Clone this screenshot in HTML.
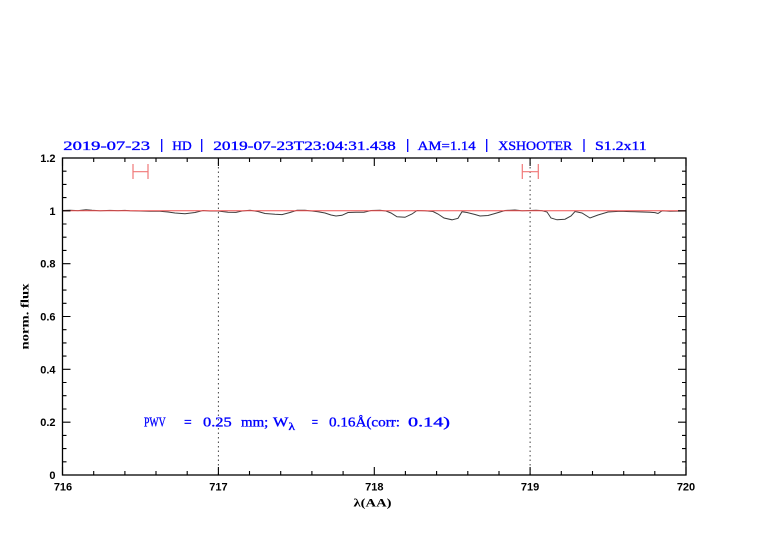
<!DOCTYPE html>
<html>
<head>
<meta charset="utf-8">
<style>
html,body{margin:0;padding:0;background:#fff;}
svg{display:block;}
</style>
</head>
<body>
<svg width="782" height="542" viewBox="0 0 782 542" xmlns="http://www.w3.org/2000/svg">
<rect width="782" height="542" fill="#fff"/>

<!-- title -->
<g fill="#0000ff" stroke="#0000ff" stroke-width="0.35" font-family="Liberation Serif, serif" font-size="13">
<text x="63.3" y="150" textLength="86.7" lengthAdjust="spacingAndGlyphs">2019-07-23</text>
<text x="172.3" y="150" textLength="19.4" lengthAdjust="spacingAndGlyphs">HD</text>
<text x="213.3" y="150" textLength="182.4" lengthAdjust="spacingAndGlyphs">2019-07-23T23:04:31.438</text>
<text x="417.7" y="150" textLength="58" lengthAdjust="spacingAndGlyphs">AM=1.14</text>
<text x="498.3" y="150" textLength="74" lengthAdjust="spacingAndGlyphs">XSHOOTER</text>
<text x="595" y="150" textLength="51.7" lengthAdjust="spacingAndGlyphs">S1.2x11</text>
</g>
<g stroke="#0000ff" stroke-width="1.3">
<line x1="161.7" y1="139" x2="161.7" y2="152"/>
<line x1="201.7" y1="139" x2="201.7" y2="152"/>
<line x1="407.7" y1="139" x2="407.7" y2="152"/>
<line x1="486.7" y1="139" x2="486.7" y2="152"/>
<line x1="584" y1="139" x2="584" y2="152"/>
</g>

<!-- dotted vertical lines -->
<g stroke="#444" stroke-width="1" stroke-dasharray="1.5,3">
<line x1="218.4" y1="158" x2="218.4" y2="475"/>
<line x1="530.1" y1="158" x2="530.1" y2="475"/>
</g>

<!-- red I-bars -->
<g stroke="#f07878" stroke-width="1.2" fill="none">
<path d="M133 171.7 H148 M133 164 V179 M148 164 V179"/>
<path d="M522.3 171.7 H538.3 M522.3 164 V179 M538.3 164 V179"/>
</g>

<!-- spectrum -->
<polyline fill="none" stroke="#3c3c3c" stroke-width="1" points="
62.5,210.5 70,210.3 78,210.6 86,209.8 92,210.3 100,210.7 110,210.4 118,210.6 125,210.4 130,210.7 140,211 150,211.2 160,211.3 168,212 175,213 185,213.8 195,212.5 203,210.5 210,211 218,211 222,211.5 228,212.3 236,212.4 242,211 250,210.3 258,211.5 265,213.5 275,214.3 282,214.6 290,212.5 297,210.3 305,210.2 312,211 318,211.8 325,213 331,215 336,216 342,215.3 348,212.5 356,212.3 364,212.2 371,210.5 380,210.3 386,211 391,213 397,216.8 405,217.3 412,214 417,210.5 425,210.8 433,211.5 438,214 444,218 452,219.8 458,218.3 462,211.7 467,212.5 475,214.5 480,216 488,215.5 495,213.5 505,210.5 515,210 522,210.8 530,210.5 536,210.3 542,210.6 547,212 551,218 557,219.8 565,219.2 571,216 575,211.5 582,213 590,218 598,215 608,212 620,211.3 630,211.6 642,212 650,212.2 655,212.6 658,213.5 662,210.8 670,211.2 686,211"/>

<!-- continuum -->
<line x1="62.5" y1="210.8" x2="686" y2="210.8" stroke="#f05050" stroke-width="1"/>

<!-- frame -->
<rect x="62.5" y="158" width="623.5" height="317" fill="none" stroke="#000" stroke-width="1.3"/>

<!-- ticks -->
<path fill="none" stroke="#000" stroke-width="1.1" d="
M62.5 475 V467 M93.7 475 V471 M124.9 475 V471 M156 475 V471 M187.2 475 V471
M218.4 475 V467 M249.5 475 V471 M280.7 475 V471 M311.9 475 V471 M343.1 475 V471
M374.3 475 V467 M405.4 475 V471 M436.6 475 V471 M467.8 475 V471 M499 475 V471
M530.1 475 V467 M561.3 475 V471 M592.5 475 V471 M623.7 475 V471 M654.8 475 V471 M686 475 V467
M62.5 158 V166 M93.7 158 V162 M124.9 158 V162 M156 158 V162 M187.2 158 V162
M218.4 158 V166 M249.5 158 V162 M280.7 158 V162 M311.9 158 V162 M343.1 158 V162
M374.3 158 V166 M405.4 158 V162 M436.6 158 V162 M467.8 158 V162 M499 158 V162
M530.1 158 V166 M561.3 158 V162 M592.5 158 V162 M623.7 158 V162 M654.8 158 V162 M686 158 V166
M62.5 475 H70.5 M62.5 461.8 H66.5 M62.5 448.6 H66.5 M62.5 435.4 H66.5
M62.5 422.2 H70.5 M62.5 409 H66.5 M62.5 395.7 H66.5 M62.5 382.5 H66.5
M62.5 369.3 H70.5 M62.5 356.1 H66.5 M62.5 342.9 H66.5 M62.5 329.7 H66.5
M62.5 316.5 H70.5 M62.5 303.3 H66.5 M62.5 290.1 H66.5 M62.5 276.9 H66.5
M62.5 263.7 H70.5 M62.5 250.4 H66.5 M62.5 237.2 H66.5 M62.5 224 H66.5
M62.5 210.8 H70.5 M62.5 197.6 H66.5 M62.5 184.4 H66.5 M62.5 171.2 H66.5 M62.5 158 H70.5
M686 475 H678 M686 461.8 H682 M686 448.6 H682 M686 435.4 H682
M686 422.2 H678 M686 409 H682 M686 395.7 H682 M686 382.5 H682
M686 369.3 H678 M686 356.1 H682 M686 342.9 H682 M686 329.7 H682
M686 316.5 H678 M686 303.3 H682 M686 290.1 H682 M686 276.9 H682
M686 263.7 H678 M686 250.4 H682 M686 237.2 H682 M686 224 H682
M686 210.8 H678 M686 197.6 H682 M686 184.4 H682 M686 171.2 H682 M686 158 H678"/>

<!-- y tick labels -->
<g font-family="Liberation Sans, sans-serif" font-size="11" font-weight="bold" fill="#000" text-anchor="end">
<text x="55.5" y="479">0</text>
<text x="55.5" y="426.2">0.2</text>
<text x="55.5" y="373.3">0.4</text>
<text x="55.5" y="320.5">0.6</text>
<text x="55.5" y="267.7">0.8</text>
<text x="55.5" y="214.8">1</text>
<text x="55.5" y="162">1.2</text>
</g>

<!-- x tick labels -->
<g font-family="Liberation Sans, sans-serif" font-size="11" font-weight="bold" fill="#000" text-anchor="middle">
<text x="63" y="490.5">716</text>
<text x="218.4" y="490.5">717</text>
<text x="374.3" y="490.5">718</text>
<text x="530.1" y="490.5">719</text>
<text x="686" y="490.5">720</text>
</g>

<!-- axis labels -->
<text x="372.5" y="506.5" font-family="Liberation Serif, serif" font-size="12" font-weight="bold" text-anchor="middle" textLength="38" lengthAdjust="spacingAndGlyphs">λ(AA)</text>
<text transform="translate(28.5,316.5) rotate(-90)" x="0" y="0" font-family="Liberation Serif, serif" font-size="12" font-weight="bold" text-anchor="middle" textLength="66" lengthAdjust="spacingAndGlyphs">norm. flux</text>

<!-- PWV annotation -->
<g fill="#0000ff" stroke="#0000ff" stroke-width="0.35" font-family="Liberation Serif, serif" font-size="13.5">
<text x="144" y="426.7" textLength="21.7" lengthAdjust="spacingAndGlyphs">PWV</text>
<text x="184" y="426.7" textLength="7.7" lengthAdjust="spacingAndGlyphs">=</text>
<text x="203" y="426.7" textLength="28.7" lengthAdjust="spacingAndGlyphs">0.25</text>
<text x="241" y="426.7" textLength="27.3" lengthAdjust="spacingAndGlyphs">mm;</text>
<text x="273" y="426.7" textLength="15.3" lengthAdjust="spacingAndGlyphs">W</text>
<text x="288.5" y="430" font-size="10" textLength="6.5" lengthAdjust="spacingAndGlyphs">λ</text>
<text x="311.7" y="426.7" textLength="6.3" lengthAdjust="spacingAndGlyphs">=</text>
<text x="329" y="426.7" textLength="71" lengthAdjust="spacingAndGlyphs">0.16Å(corr:</text>
<text x="408" y="426.7" textLength="42" lengthAdjust="spacingAndGlyphs">0.14)</text>
</g>
</svg>
</body>
</html>
